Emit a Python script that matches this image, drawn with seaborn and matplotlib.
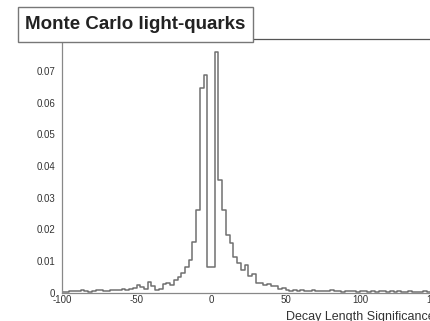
import numpy as np
import pandas as pd
import seaborn as sns
import matplotlib.pyplot as plt
from matplotlib.ticker import MultipleLocator
from matplotlib.patches import Rectangle

# histogram contents, bins of 2.5 from -100 to 150
tail_left = [0.0002, 0.0003, 0.0005, 0.0006, 0.0004, 0.0007, 0.0006, 0.0003, 0.0005, 0.0008,
             0.0007, 0.0004, 0.0006, 0.0009, 0.0010, 0.0008, 0.0011, 0.0009, 0.0012, 0.0015]
shoulder_left = [0.0025, 0.0018, 0.0012, 0.0035, 0.0022, 0.0010, 0.0012, 0.0028, 0.0032, 0.0025,
                 0.0040, 0.0048, 0.0062, 0.0082, 0.0103, 0.0160, 0.0262]
core = [0.0645, 0.0688, 0.0081, 0.0081, 0.0761]
shoulder_right = [0.0356, 0.0261, 0.0182, 0.0157, 0.0114, 0.0094, 0.0072, 0.0088, 0.0052, 0.0058,
                  0.0030, 0.0032, 0.0025, 0.0028, 0.0020, 0.0022, 0.0012, 0.0015]
tail_right = [0.0008, 0.0006, 0.0009, 0.0005, 0.0007, 0.0006, 0.0004, 0.0008, 0.0005, 0.0006,
              0.0004, 0.0005, 0.0007, 0.0004, 0.0005, 0.0003, 0.0006, 0.0004, 0.0005, 0.0003,
              0.0004, 0.0005, 0.0003, 0.0004, 0.0003, 0.0005, 0.0004, 0.0003, 0.0004, 0.0003,
              0.0004, 0.0002, 0.0003, 0.0004, 0.0003, 0.0002, 0.0003, 0.0004, 0.0002, 0.0003]
counts = tail_left + shoulder_left + core + shoulder_right + tail_right

x_lo, x_hi = -100, 150
x_ticks = [-100, -50, 0, 50, 100, 150]
x_ticklabels = ["-100", "-50", "0", "50", "100", "150"]
y_ticks = [0, 0.01, 0.02, 0.03, 0.04, 0.05, 0.06, 0.07, 0.08]
y_ticklabels = ["0", "0.01", "0.02", "0.03", "0.04", "0.05", "0.06", "0.07", "0.08"]
title = "Monte Carlo light-quarks"
xlabel = "Decay Length Significance"

edges = np.linspace(x_lo, x_hi, len(counts) + 1)
df = pd.DataFrame({"x": (edges[:-1] + edges[1:]) / 2, "w": counts})

sns.set_style("white")
plt.rcParams['font.family'] = ['Liberation Sans', 'DejaVu Sans']
plt.rcParams['axes.unicode_minus'] = False

fig = plt.figure(figsize=(4.31, 3.21), dpi=100)
ax = fig.add_axes([0.1439, 0.0882, 0.8643, 0.789])

sns.histplot(data=df, x="x", weights="w", bins=len(counts), binrange=(x_lo, x_hi),
             element="step", fill=False, color="#707070", linewidth=1.1, ax=ax)

ax.set_xlim(x_lo, x_hi)
ax.set_ylim(0, 0.08)
ax.set_xticks(x_ticks)
ax.set_xticklabels(x_ticklabels)
ax.set_yticks(y_ticks)
ax.set_yticklabels(y_ticklabels)
ax.xaxis.set_minor_locator(MultipleLocator(10))
ax.yaxis.set_minor_locator(MultipleLocator(0.002))
ax.tick_params(axis="both", which="both", direction="in", colors="#888888", labelcolor="#333333",
               labelsize=7, width=0.8)
ax.tick_params(axis="x", which="major", length=5.8, pad=2)
ax.tick_params(axis="x", which="minor", length=2.9)
ax.tick_params(axis="y", which="major", length=8, pad=5)
ax.tick_params(axis="y", which="minor", length=4.3)
ax.set_ylabel("")
ax.set_xlabel(xlabel, loc="right", fontsize=9, color="#333333", labelpad=4)

for side in ["left", "bottom"]:
    ax.spines[side].set_color("#888888")
    ax.spines[side].set_linewidth(0.9)
ax.spines["top"].set_color("#555555")
ax.spines["top"].set_linewidth(0.9)
ax.spines["right"].set_visible(False)

# title box (ROOT style)
fig.patches.append(Rectangle((0.0418, 0.8692), 0.5452, 0.109, transform=fig.transFigure,
                             facecolor="white", edgecolor="#777777", linewidth=1.0, zorder=5))
fig.text(0.3144, 0.9237, title, ha="center", va="center", fontsize=13.5,
         fontweight="bold", color="#222222", zorder=6)

fig.savefig("out.png", dpi=100)
